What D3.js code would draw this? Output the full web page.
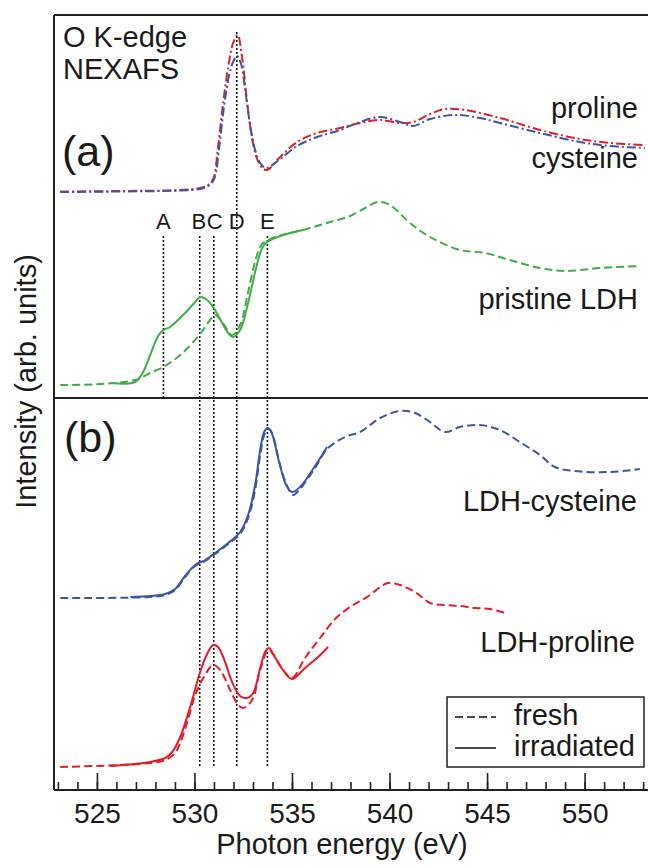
<!DOCTYPE html>
<html>
<head>
<meta charset="utf-8">
<script src="https://cdn.jsdelivr.net/npm/d3@7"></script>
<style>
  html, body { margin: 0; padding: 0; background: #fff; }
  svg text { font-family: "Liberation Sans", Arial, Helvetica, sans-serif; fill: #1a1a1a; }
</style>
</head>
<body>
<div id="chart"></div>
<script>
// photon energy (eV), intensity (arb. units, curves already offset)
const proline = [[523.12,598.5],[526.19,599],[529.27,600],[530.29,602],[530.70,605],[530.96,611],[531.21,643],[531.47,687],[531.73,723],[531.98,747],[532.21,755],[532.44,733],[532.70,688],[532.96,651],[533.21,631],[533.47,622],[533.73,620],[534.39,633],[535.26,648],[536.29,657],[537.47,662],[538.49,667],[539.52,670],[540.54,667],[541.20,668],[542.08,676],[542.84,681],[543.87,680],[545.66,672],[547.71,660],[549.76,651],[551.30,647],[553.09,645]];
const cysteine = [[523.12,598],[526.19,598.5],[529.27,599.5],[530.29,601],[530.70,604],[531.01,611],[531.27,643],[531.52,684],[531.78,715],[531.98,728],[532.19,734],[532.39,726],[532.60,700],[532.85,665],[533.11,640],[533.37,627],[533.67,622],[534.39,631],[535.26,644],[536.29,653],[537.47,660],[538.49,668],[539.52,673],[540.54,668],[541.20,664],[542.08,671],[543.36,675],[544.63,672],[545.66,667],[547.71,657],[549.76,648],[551.30,644],[553.09,642]];

const ldhFresh = [[523.12,405],[525.17,406],[526.96,410],[527.73,417],[528.40,423],[529.27,435],[530.29,456],[530.80,470],[531.06,475],[531.42,468],[531.93,455],[532.34,465],[532.75,498],[533.16,532],[533.47,546],[534.13,553],[534.90,557],[535.93,562],[536.95,568],[537.98,574],[538.75,582],[539.41,588],[540.02,585],[541.05,567],[542.08,553],[543.61,540],[544.89,537],[546.17,530],[547.71,522],[548.99,519],[550.78,522],[552.83,524]];
const ldhIrr = [[525.68,407],[526.96,408],[527.37,418],[527.73,435],[528.14,454],[528.40,460],[528.75,463],[529.52,477],[530.04,488],[530.29,493],[530.65,490],[530.96,483],[531.42,467],[531.73,457],[531.98,453],[532.34,460],[532.75,487],[533.16,522],[533.47,542],[533.73,548],[534.39,554],[535.57,560]];

const ldhCysFresh = [[523.12,192],[527.73,193],[528.50,195],[529.01,200],[529.52,213],[530.04,224],[530.55,229],[531.06,236],[531.73,246],[532.34,256],[532.75,272],[533.11,300],[533.37,335],[533.62,357],[533.83,361],[534.03,354],[534.39,325],[534.75,304],[535.06,295],[535.41,301],[536.18,322],[536.80,341],[537.72,353],[538.49,358],[539.52,372],[540.54,379],[541.31,377],[542.08,368],[542.84,358],[543.61,363],[544.63,365],[545.66,360],[546.68,348],[547.71,335],[548.48,323],[549.50,319],[551.30,318],[552.83,321]];
const ldhCysIrr = [[526.71,193],[527.73,194],[528.50,196],[529.01,201],[529.52,214],[530.04,225],[530.55,230],[531.06,237],[531.73,247],[532.34,258],[532.75,275],[533.11,305],[533.37,340],[533.57,358],[533.78,362],[533.98,356],[534.34,328],[534.70,305],[535.00,298],[535.41,303],[536.18,324],[536.80,343]];

const ldhProFresh = [[523.12,23],[526.19,25],[527.73,27],[528.50,30],[529.01,37],[529.27,47],[529.63,68],[530.04,95],[530.45,112],[530.96,125],[531.32,120],[531.83,100],[532.24,85],[532.49,82],[532.75,85],[533.01,92],[533.37,120],[533.78,140],[534.03,136],[534.54,120],[535.00,112],[535.67,132],[536.44,152],[537.21,171],[537.98,183],[538.85,193],[539.92,207],[540.54,205],[541.31,198],[542.08,187],[542.84,185],[543.61,184],[544.38,182],[545.15,181],[545.92,177]];
const ldhProIrr = [[525.68,24],[527.73,28],[528.50,32],[528.86,38],[529.27,53],[529.78,83],[530.29,118],[530.65,136],[530.96,145],[531.21,143],[531.57,128],[531.93,108],[532.34,94],[532.70,92],[533.01,97],[533.37,122],[533.62,138],[533.83,142],[534.03,136],[534.54,120],[535.00,111],[535.67,122],[536.34,133],[536.85,143]];

const peakLabels = ["A", "B", "C", "D", "E"];
const peakEnergies = [528.41, 530.27, 530.99, 532.17, 533.74];

const majorTicks = [525, 530, 535, 540, 545, 550];
const minorTicks = d3.range(523, 554);

const RED = "#e41e26", BLUE = "#3c56a5", GREEN = "#3fae49";

const width = 648, height = 868;
const plotLeft = 54, plotRight = 648, plotTop = 15, plotBottom = 790;

const svg = d3.select("#chart").append("svg")
    .attr("width", width)
    .attr("height", height)
    .attr("viewBox", `0 0 ${width} ${height}`);

const x = d3.scaleLinear().domain([522.8, 553.25]).range([plotLeft, plotRight]);
const y = d3.scaleLinear().domain([0, 775]).range([plotBottom, plotTop]);

const line = d3.line()
    .x(d => x(d[0]))
    .y(d => y(d[1]))
    .curve(d3.curveCatmullRom.alpha(0.5));

// dotted guide lines for features A-E
const guideTop = {A: 554, B: 554, C: 554, D: 758, E: 554};
const guideBottom = {A: 392, B: 24, C: 24, D: 24, E: 24};
peakLabels.forEach((lab, i) => {
    const e = peakEnergies[i];
    svg.append("line")
        .attr("x1", x(e)).attr("x2", x(e))
        .attr("y1", y(guideTop[lab])).attr("y2", y(guideBottom[lab]))
        .attr("stroke", "#111")
        .attr("stroke-width", 1.6)
        .attr("stroke-dasharray", "2,2");
});
svg.selectAll("text.peak")
    .data(peakLabels)
    .join("text")
    .attr("class", "peak")
    .attr("x", (d, i) => x(peakEnergies[i]) + (d === "B" ? -1 : d === "C" ? 1 : 0))
    .attr("y", 229)
    .attr("text-anchor", "middle")
    .style("font-size", "22px")
    .text(d => d);

// spectra
const series = [
    {data: proline, color: RED, dash: "9,3,2,3"},
    {data: cysteine, color: BLUE, dash: "9,3,2,3"},
    {data: ldhFresh, color: GREEN, dash: "8,4"},
    {data: ldhIrr, color: GREEN, dash: null},
    {data: ldhCysFresh, color: BLUE, dash: "8,4"},
    {data: ldhCysIrr, color: BLUE, dash: null},
    {data: ldhProFresh, color: RED, dash: "8,4"},
    {data: ldhProIrr, color: RED, dash: null}
];
svg.selectAll("path.spec")
    .data(series)
    .join("path")
    .attr("class", "spec")
    .attr("d", d => line(d.data))
    .attr("fill", "none")
    .attr("stroke", d => d.color)
    .attr("stroke-width", 2)
    .attr("stroke-dasharray", d => d.dash);

// frame
const frame = svg.append("g").attr("stroke", "#222").attr("stroke-width", 2).attr("fill", "none");
frame.append("line").attr("x1", plotLeft).attr("x2", plotLeft).attr("y1", plotTop).attr("y2", plotBottom);
frame.append("line").attr("x1", plotLeft).attr("x2", plotRight).attr("y1", plotTop).attr("y2", plotTop);
frame.append("line").attr("x1", plotLeft).attr("x2", plotRight).attr("y1", 398).attr("y2", 398);

// x axis, inward ticks
const minorAxis = d3.axisBottom(x).tickValues(minorTicks).tickSize(-8).tickFormat("");
const majorAxis = d3.axisBottom(x).tickValues(majorTicks).tickSize(-17).tickPadding(13);
const gMinor = svg.append("g").attr("transform", `translate(0,${plotBottom})`).call(minorAxis);
const gMajor = svg.append("g").attr("transform", `translate(0,${plotBottom})`).call(majorAxis);
[gMinor, gMajor].forEach(g => {
    g.select(".domain").remove();
    g.selectAll(".tick line").attr("stroke", "#222").attr("stroke-width", 1.6);
});
gMajor.selectAll(".tick text")
    .attr("fill", "#1a1a1a")
    .style("font-size", "28px")
    .style("font-family", '"Liberation Sans", Arial, sans-serif');
frame.append("line").attr("x1", plotLeft).attr("x2", plotRight).attr("y1", plotBottom).attr("y2", plotBottom);

// axis titles
svg.append("text")
    .attr("x", (plotLeft + plotRight) / 2 - 9)
    .attr("y", 854)
    .attr("text-anchor", "middle")
    .style("font-size", "29px")
    .text("Photon energy (eV)");
svg.append("text")
    .attr("transform", `translate(36,${(plotTop + plotBottom) / 2 - 21}) rotate(-90)`)
    .attr("text-anchor", "middle")
    .style("font-size", "29px")
    .text("Intensity (arb. units)");

// annotations
const notes = [
    {t: "O K-edge", x: 63, y: 47, size: 29, anchor: "start"},
    {t: "NEXAFS", x: 63, y: 79, size: 29, anchor: "start"},
    {t: "(a)", x: 62, y: 166, size: 43, anchor: "start"},
    {t: "(b)", x: 64, y: 452, size: 43, anchor: "start"},
    {t: "proline", x: 638, y: 118, size: 29, anchor: "end"},
    {t: "cysteine", x: 638, y: 168, size: 29, anchor: "end"},
    {t: "pristine LDH", x: 638, y: 309, size: 29, anchor: "end"},
    {t: "LDH-cysteine", x: 637, y: 511, size: 29, anchor: "end"},
    {t: "LDH-proline", x: 635, y: 652, size: 29, anchor: "end"}
];
svg.selectAll("text.note")
    .data(notes)
    .join("text")
    .attr("class", "note")
    .attr("x", d => d.x)
    .attr("y", d => d.y)
    .attr("text-anchor", d => d.anchor)
    .style("font-size", d => d.size + "px")
    .text(d => d.t);

// legend
const legend = svg.append("g");
legend.append("rect")
    .attr("x", 447).attr("y", 697)
    .attr("width", 197).attr("height", 70)
    .attr("fill", "#fff")
    .attr("stroke", "#222")
    .attr("stroke-width", 1.5);
const legendItems = [{t: "fresh", dash: "8,4", y: 717}, {t: "irradiated", dash: null, y: 748}];
legendItems.forEach(d => {
    legend.append("line")
        .attr("x1", 455).attr("x2", 496)
        .attr("y1", d.y).attr("y2", d.y)
        .attr("stroke", "#111")
        .attr("stroke-width", 1.6)
        .attr("stroke-dasharray", d.dash);
    legend.append("text")
        .attr("x", 514).attr("y", d.y + 8)
        .style("font-size", "29px")
        .text(d.t);
});
</script>
</body>
</html>
